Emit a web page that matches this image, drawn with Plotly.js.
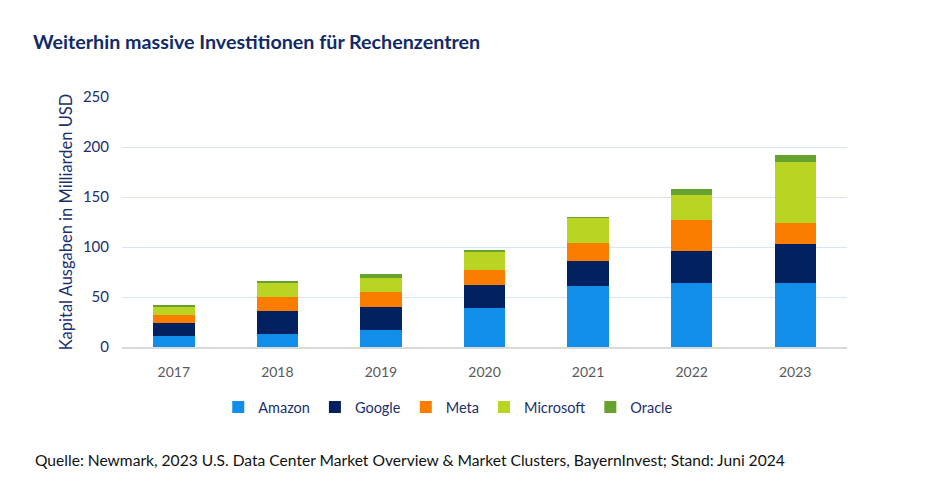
<!DOCTYPE html>
<html>
<head>
<meta charset="utf-8">
<script src="https://cdn.plot.ly/plotly-3.0.1.min.js"></script>
<style>
html,body{margin:0;padding:0;background:#fff;}
#chart{width:930px;height:483px;}
</style>
</head>
<body>
<div id="chart"></div>
<script>
const years = ['2017','2018','2019','2020','2021','2022','2023'];
const amazon    = [11, 13, 16.7, 39.4, 61, 64.4, 64.4];
const google    = [12.7, 23, 23.7, 23, 25, 32, 38.6];
const meta      = [8, 13.7, 15, 14.6, 18.4, 30.6, 20.7];
const microsoft = [8.3, 14.7, 13.6, 18.4, 24.3, 25, 61.3];
const oracle    = [2, 1.3, 3.7, 1.3, 1.7, 5.7, 6.7];
const yTicks = [0, 50, 100, 150, 200, 250];

const seriesNames = ['Amazon','Google','Meta','Microsoft','Oracle'];
const seriesData = [amazon, google, meta, microsoft, oracle];
const colors = ['#118dea','#002060','#fa7d00','#b9d423','#66a22e'];

const font = "Lato, 'Open Sans', sans-serif";
const navy = '#1b2f6e';

const traces = seriesNames.map((n,i)=>({
  type:'bar', name:n, x:years, y:seriesData[i],
  marker:{color:colors[i], line:{width:0}},
  width:0.4
}));

const layout = {
  width:930, height:483,
  barmode:'stack',
  margin:{l:122, r:83, t:97, b:136},
  paper_bgcolor:'#fff', plot_bgcolor:'#fff',
  font:{family:font, color:navy},
  title:{text:'<b>Weiterhin massive Investitionen für Rechenzentren</b>',
    x:33/930, xanchor:'left', xref:'container', y:1-42/483, yref:'container', yanchor:'middle',
    font:{family:font, size:19.7, color:'#112a6a'}},
  xaxis:{type:'category', range:[-0.5,6.5], showgrid:false,
    showline:true, linecolor:'#d9d9d9', linewidth:1.5, ticks:'',
    tickfont:{family:font, size:14, color:'#595959'}, ticklabelstandoff:12},
  yaxis:{range:[0,250], tickvals:yTicks, showgrid:true, gridcolor:'#d9e2f8',
    zeroline:false, showline:false, ticks:'',
    tickfont:{family:font, size:15, color:navy}, ticklabelstandoff:12,
    title:{text:'Kapital Ausgaben in Milliarden USD', standoff:6,
      font:{family:font, size:16.5, color:navy}}},
  legend:{orientation:'h', x:0.45, xanchor:'center', xref:'paper', y:-0.24, yanchor:'middle',
    font:{family:font, size:14.5, color:navy}, itemwidth:30, traceorder:'normal'},
  annotations:[{text:'Quelle: Newmark, 2023 U.S. Data Center Market Overview &amp; Market Clusters, BayernInvest; Stand: Juni 2024',
    xref:'paper', yref:'paper', x:-89/725, xanchor:'left', y:-(460-347)/250, yanchor:'middle',
    showarrow:false, font:{family:font, size:15.6, color:'#111'}}]
};

Plotly.newPlot('chart', traces, layout, {displayModeBar:false, staticPlot:true});
</script>
</body>
</html>
